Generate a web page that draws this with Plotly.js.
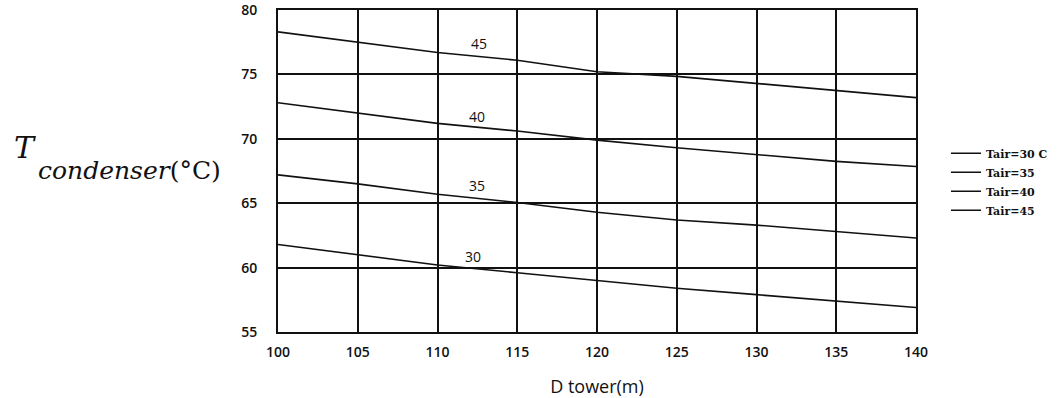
<!DOCTYPE html>
<html>
<head>
<meta charset="utf-8">
<script src="https://cdn.plot.ly/plotly-3.0.1.min.js"></script>
<style>html,body{margin:0;padding:0;background:#fff;}#chart{width:1063px;height:398px;}</style>
</head>
<body>
<div id="chart"></div>
<script>
var towerDiameter = [100, 105, 110, 115, 120, 125, 130, 135, 140];
var tAir30 = [61.8, 61.0, 60.2, 59.6, 59.0, 58.4, 57.9, 57.4, 56.9];
var tAir35 = [67.2, 66.5, 65.7, 65.05, 64.3, 63.7, 63.3, 62.8, 62.3];
var tAir40 = [72.8, 72.0, 71.2, 70.6, 69.9, 69.3, 68.8, 68.25, 67.85];
var tAir45 = [78.3, 77.5, 76.7, 76.1, 75.2, 74.85, 74.3, 73.7, 73.2];
var seriesNames = ['Tair=30 C', 'Tair=35', 'Tair=40', 'Tair=45'];
var curveLabels = ['30', '35', '40', '45'];
var labelX = [112.2, 112.5, 112.5, 112.6];
var labelY = [60.85, 66.4, 71.7, 77.4];
var xTicks = [100, 105, 110, 115, 120, 125, 130, 135, 140];
var yTicks = [55, 60, 65, 70, 75, 80];

var seriesData = [tAir30, tAir35, tAir40, tAir45];
var traces = seriesData.map(function (ys, i) {
  return {
    x: towerDiameter, y: ys, name: seriesNames[i], type: 'scatter', mode: 'lines',
    line: {color: '#111', width: 1.6}
  };
});

var annotations = curveLabels.map(function (t, i) {
  return {x: labelX[i], y: labelY[i], xref: 'x', yref: 'y', text: t, showarrow: false,
    font: {family: 'Open Sans, sans-serif', size: 14, color: '#111'}};
});
annotations.push({
  xref: 'paper', yref: 'paper', x: -0.416, y: 0.572, xanchor: 'left', yanchor: 'middle',
  showarrow: false, borderpad: 0,
  text: '<i>T</i>',
  font: {family: 'DejaVu Serif, serif', size: 30, color: '#111'}
});
annotations.push({
  xref: 'paper', yref: 'paper', x: -0.377, y: 0.503, xanchor: 'left', yanchor: 'middle',
  showarrow: false, borderpad: 0,
  text: '<i>condenser</i><span style="font-size:25px">(°C)</span>',
  font: {family: 'DejaVu Serif, serif', size: 25, color: '#111'}
});

var layout = {
  width: 1063, height: 398,
  margin: {l: 278, r: 145, t: 10, b: 66},
  paper_bgcolor: '#fff', plot_bgcolor: '#fff',
  showlegend: true,
  legend: {x: 1.047, y: 0.6, xanchor: 'left', yanchor: 'top', bgcolor: 'rgba(0,0,0,0)',
    font: {family: 'DejaVu Serif, serif', size: 11, color: '#111', weight: 'bold'}, itemwidth: 30},
  xaxis: {
    range: [100, 140], tickvals: xTicks, ticktext: xTicks.map(String),
    showgrid: true, gridcolor: '#111', gridwidth: 2,
    showline: true, linecolor: '#111', linewidth: 2, mirror: true, zeroline: false,
    ticks: '', ticklabelstandoff: 6,
    tickfont: {family: 'Open Sans, sans-serif', size: 14, color: '#111', weight: 600},
    title: {text: 'D tower(m)', standoff: 22, font: {family: 'Open Sans, sans-serif', size: 18, color: '#111'}}
  },
  yaxis: {
    range: [55, 80], tickvals: yTicks, ticktext: yTicks.map(String),
    showgrid: true, gridcolor: '#111', gridwidth: 2,
    showline: true, linecolor: '#111', linewidth: 2, mirror: true, zeroline: false,
    ticks: '', ticklabelstandoff: 16, ticklabeloverflow: 'allow',
    tickfont: {family: 'Open Sans, sans-serif', size: 14, color: '#111', weight: 600}
  },
  annotations: annotations
};

Plotly.newPlot('chart', traces, layout, {displayModeBar: false, staticPlot: true});
</script>
</body>
</html>
